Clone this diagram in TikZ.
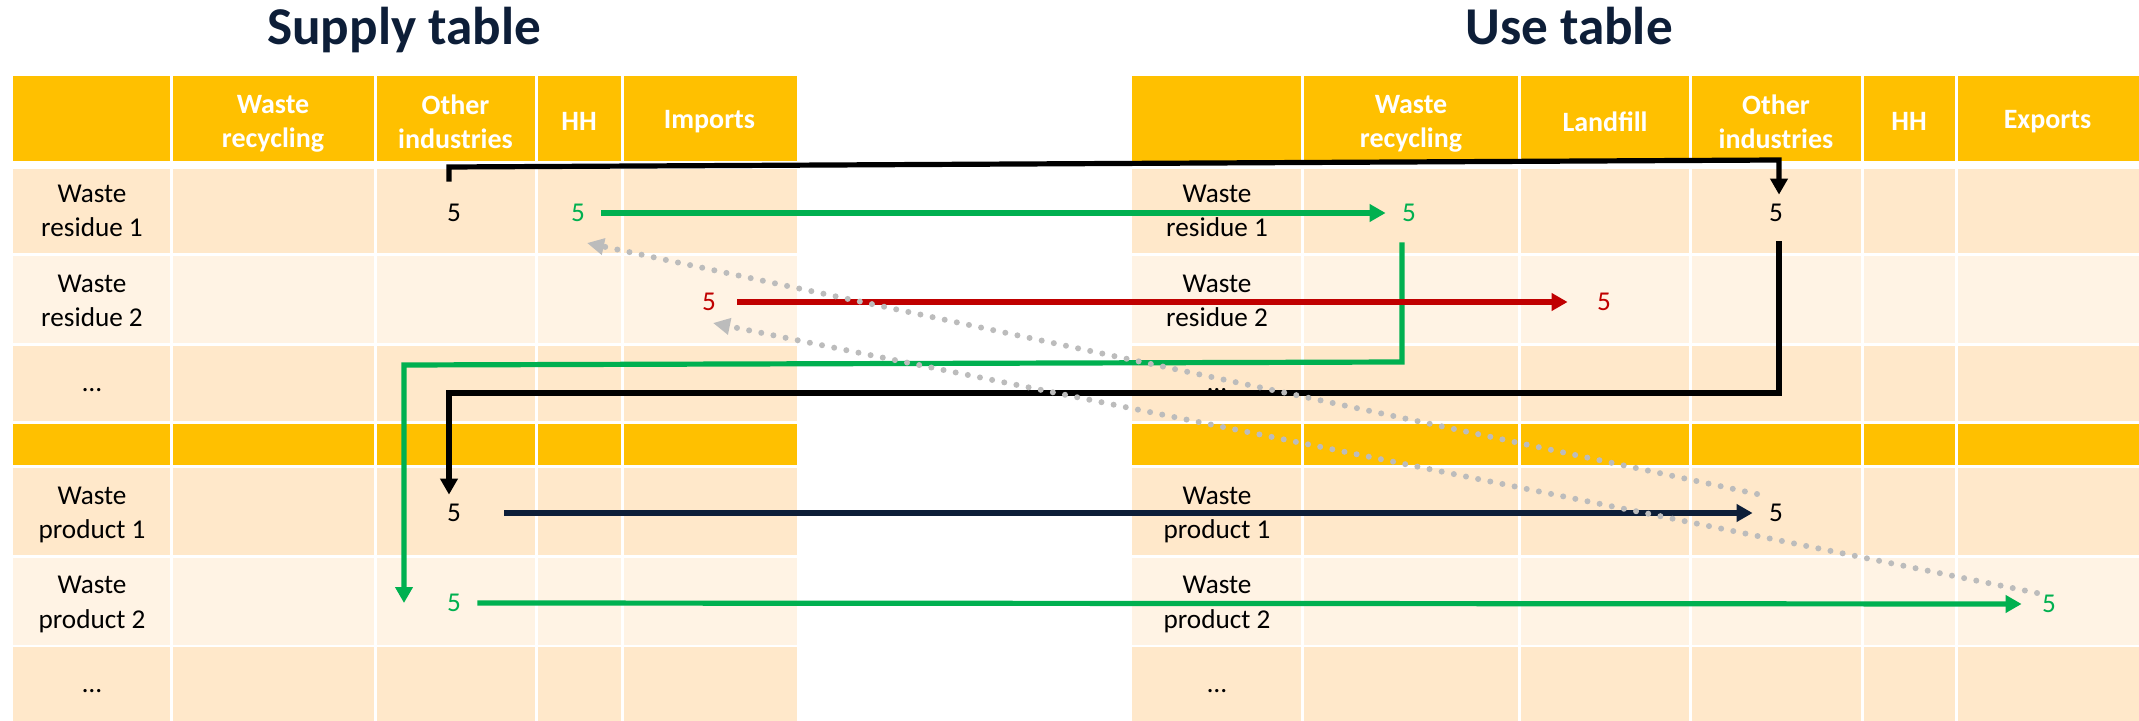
\documentclass[tikz,border=0pt]{standalone}
\usepackage{fontspec}
\setmainfont{Carlito}
\usetikzlibrary{arrows.meta}
\definecolor{gold}{RGB}{255,192,0}
\definecolor{peach}{RGB}{255,232,202}
\definecolor{cream}{RGB}{255,243,228}
\definecolor{navy}{RGB}{13,30,56}
\definecolor{flowgreen}{RGB}{0,176,80}
\definecolor{flowred}{RGB}{192,0,0}
\definecolor{flowgrey}{RGB}{188,188,188}

\begin{document}
\begin{tikzpicture}[x=0.5pt,y=-0.5pt]
\tikzstyle{header cell} = [fill=gold]
\tikzstyle{dark cell} = [fill=peach]
\tikzstyle{light cell} = [fill=cream]
\tikzstyle{column gap} = [draw=white, line width=1.5pt]
\tikzstyle{table title} = [anchor=base, inner sep=0pt, text=navy, font=\fontsize{26.6}{32}\selectfont\bfseries]
\tikzstyle{header label} = [align=center, inner sep=0pt, text=white, font=\fontsize{14}{17.2}\selectfont\bfseries]
\tikzstyle{row label} = [align=center, inner sep=0pt, font=\fontsize{13.6}{17.2}\selectfont]
\tikzstyle{value node} = [inner sep=0pt, minimum width=23pt, minimum height=18pt, font=\fontsize{13.6}{17.2}\selectfont]
\tikzstyle{flow} = [draw, line width=2.6pt, -{Triangle[length=8pt,width=8.5pt]}]
\tikzstyle{black flow} = [flow, color=black]
\tikzstyle{navy flow} = [flow, color=navy]
\tikzstyle{green flow} = [flow, color=flowgreen]
\tikzstyle{red flow} = [flow, color=flowred]
\tikzstyle{return flow} = [draw, color=flowgrey, line width=3pt, line cap=round, dash pattern=on 0pt off 6.2pt, -{Triangle[length=8.5pt,width=8pt]}]
\useasboundingbox (0,0) rectangle (2139,721);
% supply table
\path[header cell] (13,76.5) rectangle (797,161);
\path[dark cell] (13,169) rectangle (797,253.5);
\path[light cell] (13,256) rectangle (797,343.5);
\path[dark cell] (13,346) rectangle (797,421);
\path[header cell] (13,423.5) rectangle (797,465);
\path[dark cell] (13,467.5) rectangle (797,555);
\path[light cell] (13,557.5) rectangle (797,644.5);
\path[dark cell] (13,647) rectangle (797,721);
\path[column gap] (171,76.5) -- (171,721);
\path[column gap] (375,76.5) -- (375,721);
\path[column gap] (536,76.5) -- (536,721);
\path[column gap] (622.5,76.5) -- (622.5,721);
% use table
\path[header cell] (1132,76.5) rectangle (2139,161);
\path[dark cell] (1132,169) rectangle (2139,253.5);
\path[light cell] (1132,256) rectangle (2139,343.5);
\path[dark cell] (1132,346) rectangle (2139,421);
\path[header cell] (1132,423.5) rectangle (2139,465);
\path[dark cell] (1132,467.5) rectangle (2139,555);
\path[light cell] (1132,557.5) rectangle (2139,644.5);
\path[dark cell] (1132,647) rectangle (2139,721);
\path[column gap] (1302,76.5) -- (1302,721);
\path[column gap] (1519.5,76.5) -- (1519.5,721);
\path[column gap] (1690.5,76.5) -- (1690.5,721);
\path[column gap] (1862,76.5) -- (1862,721);
\path[column gap] (1956,76.5) -- (1956,721);
\node[table title] (supply_title) at (404,45) {Supply table};
\node[table title] (use_title) at (1569,45) {Use table};
\node[header label] (s_h_rec) at (273,123.5) {Waste\\recycling};
\node[header label] (s_h_oth) at (455.5,121.5) {Other\\industries};
\node[header label] (s_h_hh) at (579,121.5) {HH};
\node[header label] (s_h_imp) at (709.5,121.5) {Imports};
\node[header label] (u_h_rec) at (1411,123.5) {Waste\\recycling};
\node[header label] (u_h_land) at (1605,121.5) {Landfill};
\node[header label] (u_h_oth) at (1776,121.5) {Other\\industries};
\node[header label] (u_h_hh) at (1909,121.5) {HH};
\node[header label] (u_h_exp) at (2047.5,121.5) {Exports};
\node[row label] (s_l_r1) at (92,211) {Waste\\residue 1};
\node[row label] (s_l_r2) at (92,301) {Waste\\residue 2};
\node[row label] (s_l_r3) at (92,390) {…};
\node[row label] (s_l_p1) at (92,515) {Waste\\product 1};
\node[row label] (s_l_p2) at (92,604.5) {Waste\\product 2};
\node[row label] (s_l_p3) at (92,691.5) {…};
\node[row label] (u_l_r1) at (1217,211) {Waste\\residue 1};
\node[row label] (u_l_r2) at (1217,301) {Waste\\residue 2};
\node[row label] (u_l_r3) at (1217,390) {…};
\node[row label] (u_l_p1) at (1217,515) {Waste\\product 1};
\node[row label] (u_l_p2) at (1217,604.5) {Waste\\product 2};
\node[row label] (u_l_p3) at (1217,691.5) {…};
\node[value node] (s_r1_oth) at (454,213) {5};
\node[value node, text=flowgreen] (s_r1_hh) at (578,213) {5};
\node[value node, text=flowred] (s_r2_imp) at (709,302) {5};
\node[value node] (s_p1_oth) at (454,513) {5};
\node[value node, text=flowgreen] (s_p2_oth) at (454,603) {5};
\node[value node, text=flowgreen] (u_r1_rec) at (1409,213) {5};
\node[value node] (u_r1_oth) at (1776,213) {5};
\node[value node, text=flowred] (u_r2_land) at (1604,302) {5};
\node[value node] (u_p1_oth) at (1776,513) {5};
\node[value node, text=flowgreen] (u_p2_exp) at (2049,604) {5};
\coordinate (k_1) at (449,167);
\coordinate (k_2) at (1779,160);
\coordinate (k_3) at (1402,362);
\coordinate (k_4) at (404,365);
\coordinate (k_6) at (1779,393);
\coordinate (k_7) at (449,393);
\path[black flow, shorten <=6.5pt] (s_r1_oth.north -| k_1) -- (k_1) -- (k_2) -- (k_2 |- u_r1_oth.north);
\path[green flow] (s_r1_hh.east) -- (u_r1_rec.west);
\path[green flow, shorten <=5.5pt] (u_r1_rec.south -| k_3) -- (k_3) -- (k_4) -- (k_4 |- s_p2_oth);
\path[red flow, shorten <=2.5pt, shorten >=6.5pt] (s_r2_imp.east) -- (u_r2_land.west);
\path[black flow, shorten <=5pt] (u_r1_oth.south -| k_6) -- (k_6) -- (k_7) -- (k_7 |- s_p1_oth.north);
\path[navy flow, shorten <=13.5pt] (s_p1_oth.east) -- (u_p1_oth.west);
\path[green flow, shorten >=2pt] (s_p2_oth.east) -- (u_p2_exp.west);
%\node at (1776,470) {$r$};
\path[return flow] ([shift={(-19,-19)}]u_p1_oth.center) -- ([shift={(9,30)}]s_r1_hh.center);
\path[return flow] ([shift={(-12,-11)}]u_p2_exp.center) -- ([shift={(4,21)}]s_r2_imp.center);
\end{tikzpicture}
\end{document}
